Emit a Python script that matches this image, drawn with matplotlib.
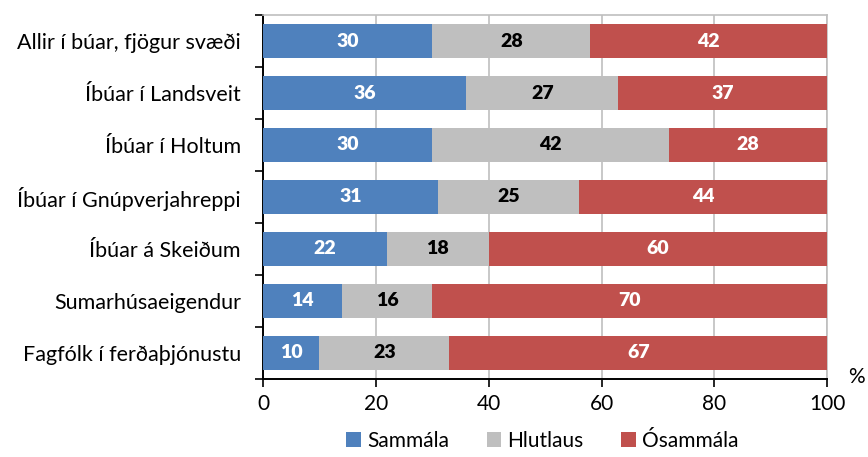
import matplotlib
matplotlib.use("Agg")
import matplotlib.pyplot as plt
import numpy as np

plt.rcParams['font.family'] = ['Lato', 'DejaVu Sans']

categories = ["Allir í búar, fjögur svæði", "Íbúar í Landsveit", "Íbúar í Holtum",
              "Íbúar í Gnúpverjahreppi", "Íbúar á Skeiðum", "Sumarhúsaeigendur",
              "Fagfólk í ferðaþjónustu"]
sammala = [30, 36, 30, 31, 22, 14, 10]
hlutlaus = [28, 27, 42, 25, 18, 16, 23]
osammala = [42, 37, 28, 44, 60, 70, 67]
series_names = ["Sammála", "Hlutlaus", "Ósammála"]
xticks = [0, 20, 40, 60, 80, 100]

colors = ["#4F81BD", "#BFBFBF", "#C0504D"]
label_colors = ["white", "black", "white"]

fig = plt.figure(figsize=(8.68, 4.57), dpi=100)
ax = fig.add_axes([0.303, 0.171, 0.650, 0.796])

y = np.arange(len(categories))
left = np.zeros(len(categories))
handles = []
for vals, name, col, lc in zip([sammala, hlutlaus, osammala], series_names, colors, label_colors):
    vals = np.array(vals, dtype=float)
    b = ax.barh(y, vals, left=left, height=0.65, color=col, label=name, zorder=3)
    handles.append(b)
    for yi, l, v in zip(y, left, vals):
        ax.text(l + v / 2, yi, f"{int(v)}", ha='center', va='center', color=lc,
                fontsize=14, fontweight='heavy', zorder=4)
    left += vals

ax.set_xlim(0, 100)
ax.set_ylim(len(categories) - 0.5, -0.5)
ax.set_xticks(xticks)
ax.set_xticklabels([str(t) for t in xticks], fontsize=15)
ax.set_yticks(y)
ax.set_yticklabels(categories, fontsize=15.5)
ax.tick_params(axis='y', length=0, pad=16)
ax.set_yticks(np.arange(-0.5, len(categories), 1), minor=True)
ax.tick_params(axis='y', which='minor', length=6, width=1.2, direction='out', color='black')
ax.tick_params(axis='x', length=6, width=1.2, direction='out', color='black', pad=5)

ax.grid(axis='x', color='#BFBFBF', linewidth=1.2, zorder=0)
for s in ['top', 'right']:
    ax.spines[s].set_color('#BFBFBF')
    ax.spines[s].set_linewidth(1.2)
ax.spines['left'].set_linewidth(1.4)
ax.spines['bottom'].set_linewidth(1.4)

fig.text(0.987, 0.175, "%", fontsize=15, ha='center', va='center')

fig.legend(handles=handles, labels=series_names, loc='center', bbox_to_anchor=(0.625, 0.035),
           ncol=3, frameon=False, fontsize=15, handlelength=0.7, handleheight=0.7,
           handletextpad=0.3, columnspacing=1.8)

fig.savefig("out.png", dpi=100)
